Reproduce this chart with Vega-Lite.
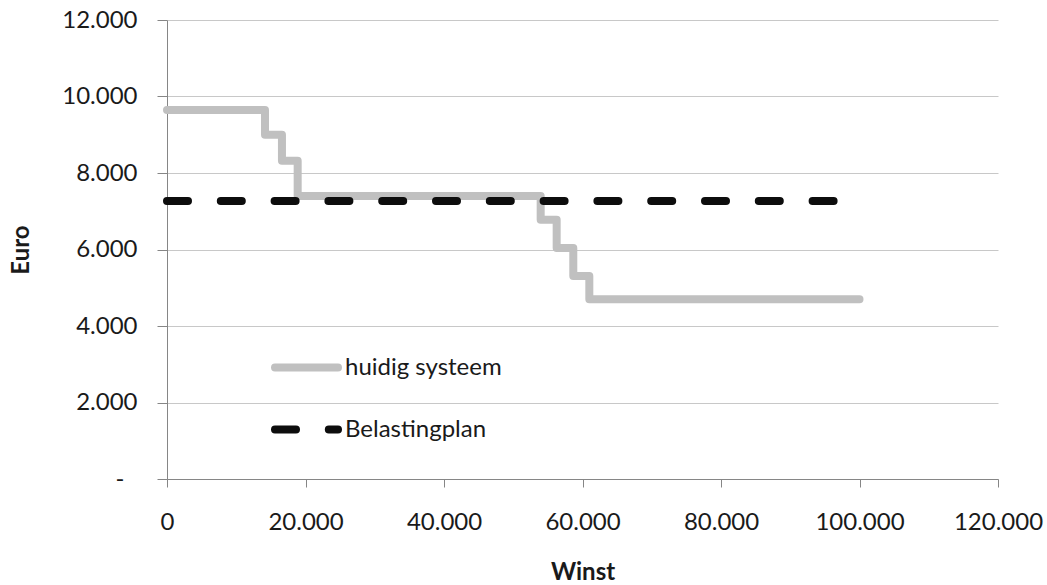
{
  "$schema": "https://vega.github.io/schema/vega-lite/v6.json",
  "autosize": "none",
  "width": 831,
  "height": 459,
  "padding": {"left": 167, "top": 20, "right": 49, "bottom": 106},
  "background": "white",
  "config": {
    "view": {"stroke": null},
    "font": "Lato",
    "locale": {"number": {"decimal": ",", "thousands": ".", "grouping": [3], "currency": ["€", ""]}}
  },
  "data": {
    "values": [
      {"serie": "huidig systeem", "winst": 0, "euro": 9650},
      {"serie": "huidig systeem", "winst": 14150, "euro": 9000},
      {"serie": "huidig systeem", "winst": 16600, "euro": 8320},
      {"serie": "huidig systeem", "winst": 18870, "euro": 7400},
      {"serie": "huidig systeem", "winst": 53960, "euro": 6780},
      {"serie": "huidig systeem", "winst": 56270, "euro": 6040},
      {"serie": "huidig systeem", "winst": 58670, "euro": 5310},
      {"serie": "huidig systeem", "winst": 60985, "euro": 4700},
      {"serie": "huidig systeem", "winst": 100000, "euro": 4700},
      {"serie": "Belastingplan", "winst": 0, "euro": 7270},
      {"serie": "Belastingplan", "winst": 96300, "euro": 7270}
    ]
  },
  "mark": {"type": "line", "interpolate": "step-after", "strokeWidth": 8, "strokeCap": "round", "strokeJoin": "round"},
  "encoding": {
    "x": {
      "field": "winst", "type": "quantitative",
      "scale": {"domain": [0, 120000], "nice": false},
      "axis": {
        "title": "Winst", "values": [0, 20000, 40000, 60000, 80000, 100000, 120000],
        "format": ",d", "grid": false,
        "domainColor": "#868686", "tickColor": "#868686", "tickSize": 8,
        "labelFontSize": 24, "labelColor": "#1a1a1a", "labelPadding": 23, "labelFlush": false,
        "titleFontSize": 24, "titleFontWeight": "bold", "titleColor": "#1a1a1a", "titlePadding": 26
      }
    },
    "y": {
      "field": "euro", "type": "quantitative",
      "scale": {"domain": [0, 12000], "nice": false},
      "axis": {
        "title": "Euro", "values": [0, 2000, 4000, 6000, 8000, 10000, 12000],
        "format": ",d",
        "labelExpr": "datum.value === 0 ? '-' : datum.label",
        "labelPadding": {"condition": {"test": "datum.value === 0", "value": 33}, "value": 20},
        "grid": true, "gridColor": "#c8c8c8", "gridWidth": 1,
        "domainColor": "#868686", "tickColor": "#868686", "tickSize": 10,
        "labelFontSize": 24, "labelColor": "#1a1a1a",
        "titleFontSize": 24, "titleFontWeight": "bold", "titleColor": "#1a1a1a", "titlePadding": 28
      }
    },
    "color": {
      "field": "serie", "type": "nominal",
      "scale": {"domain": ["huidig systeem", "Belastingplan"], "range": ["#c0c0c0", "#0d0d0d"]},
      "legend": {
        "title": null, "orient": "none", "legendX": 104, "legendY": 312,
        "symbolType": "stroke", "symbolSize": 3969, "symbolStrokeWidth": 8,
        "labelFontSize": 24, "labelColor": "#1a1a1a", "labelOffset": 3, "rowPadding": 10,
        "encode": {"symbols": {"update": {"strokeCap": {"value": "round"}}}}
      }
    },
    "strokeDash": {
      "field": "serie", "type": "nominal",
      "scale": {"domain": ["huidig systeem", "Belastingplan"], "range": [[1, 0], [21, 32.8]]},
      "legend": {
        "title": null, "orient": "none", "legendX": 104, "legendY": 312,
        "symbolType": "stroke", "symbolSize": 3969, "symbolStrokeWidth": 8,
        "labelFontSize": 24, "labelColor": "#1a1a1a", "labelOffset": 3, "rowPadding": 10,
        "encode": {"symbols": {"update": {"strokeCap": {"value": "round"}}}}
      }
    }
  }
}
